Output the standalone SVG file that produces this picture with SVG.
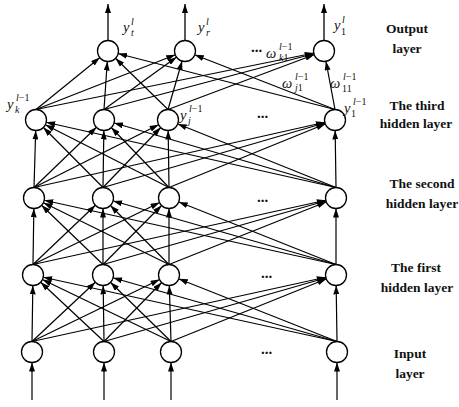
<svg xmlns="http://www.w3.org/2000/svg" width="459" height="407" viewBox="0 0 459 407">
<style>
.c{stroke:#000;stroke-width:1.2;marker-end:url(#a)}
.o{stroke:#000;stroke-width:1.3;marker-end:url(#t)}
circle{fill:#fff;stroke:#000;stroke-width:1.3}
.lb{font-family:"Liberation Serif",serif;font-weight:bold;font-size:13.5px;text-anchor:middle;fill:#111}
.m{font-family:"Liberation Serif",serif;font-style:italic;font-size:14.5px;fill:#111}
.s{font-family:"Liberation Serif",serif;font-size:10px;fill:#111}
.d{font-family:"Liberation Serif",serif;font-weight:bold;font-size:15px;fill:#111}
</style>
<defs>
<marker id="a" markerUnits="userSpaceOnUse" markerWidth="20" markerHeight="6" refX="19.5" refY="3" orient="auto"><path d="M0,0 L9,3 L0,6 z" fill="#000"/></marker>
<marker id="t" markerUnits="userSpaceOnUse" markerWidth="9" markerHeight="6" refX="9" refY="3" orient="auto"><path d="M0,0 L9,3 L0,6 z" fill="#000"/></marker>
</defs>
<g id="connectors">
<line class="c" x1="32" y1="400" x2="32" y2="352"/>
<line class="c" x1="104" y1="400" x2="104" y2="352"/>
<line class="c" x1="171" y1="400" x2="171" y2="352"/>
<line class="c" x1="337" y1="400" x2="337" y2="352"/>

<line class="c" x1="32" y1="341.5" x2="33" y2="275"/>
<line class="c" x1="32" y1="341.5" x2="103" y2="275"/>
<line class="c" x1="32" y1="341.5" x2="169" y2="275"/>
<line class="c" x1="32" y1="341.5" x2="336" y2="275"/>
<line class="c" x1="104" y1="341.5" x2="33" y2="275"/>
<line class="c" x1="104" y1="341.5" x2="103" y2="275"/>
<line class="c" x1="104" y1="341.5" x2="169" y2="275"/>
<line class="c" x1="104" y1="341.5" x2="336" y2="275"/>
<line class="c" x1="171" y1="341.5" x2="33" y2="275"/>
<line class="c" x1="171" y1="341.5" x2="103" y2="275"/>
<line class="c" x1="171" y1="341.5" x2="169" y2="275"/>
<line class="c" x1="171" y1="341.5" x2="336" y2="275"/>
<line class="c" x1="337" y1="341.5" x2="33" y2="275"/>
<line class="c" x1="337" y1="341.5" x2="103" y2="275"/>
<line class="c" x1="337" y1="341.5" x2="169" y2="275"/>
<line class="c" x1="337" y1="341.5" x2="336" y2="275"/>

<line class="c" x1="33" y1="264.5" x2="34" y2="198"/>
<line class="c" x1="33" y1="264.5" x2="103" y2="198"/>
<line class="c" x1="33" y1="264.5" x2="169" y2="198"/>
<line class="c" x1="33" y1="264.5" x2="336" y2="198"/>
<line class="c" x1="103" y1="264.5" x2="34" y2="198"/>
<line class="c" x1="103" y1="264.5" x2="103" y2="198"/>
<line class="c" x1="103" y1="264.5" x2="169" y2="198"/>
<line class="c" x1="103" y1="264.5" x2="336" y2="198"/>
<line class="c" x1="169" y1="264.5" x2="34" y2="198"/>
<line class="c" x1="169" y1="264.5" x2="103" y2="198"/>
<line class="c" x1="169" y1="264.5" x2="169" y2="198"/>
<line class="c" x1="169" y1="264.5" x2="336" y2="198"/>
<line class="c" x1="336" y1="264.5" x2="34" y2="198"/>
<line class="c" x1="336" y1="264.5" x2="103" y2="198"/>
<line class="c" x1="336" y1="264.5" x2="169" y2="198"/>
<line class="c" x1="336" y1="264.5" x2="336" y2="198"/>

<line class="c" x1="34" y1="187.5" x2="36" y2="120"/>
<line class="c" x1="34" y1="187.5" x2="104" y2="120"/>
<line class="c" x1="34" y1="187.5" x2="168" y2="120"/>
<line class="c" x1="34" y1="187.5" x2="335" y2="120"/>
<line class="c" x1="103" y1="187.5" x2="36" y2="120"/>
<line class="c" x1="103" y1="187.5" x2="104" y2="120"/>
<line class="c" x1="103" y1="187.5" x2="168" y2="120"/>
<line class="c" x1="103" y1="187.5" x2="335" y2="120"/>
<line class="c" x1="169" y1="187.5" x2="36" y2="120"/>
<line class="c" x1="169" y1="187.5" x2="104" y2="120"/>
<line class="c" x1="169" y1="187.5" x2="168" y2="120"/>
<line class="c" x1="169" y1="187.5" x2="335" y2="120"/>
<line class="c" x1="336" y1="187.5" x2="36" y2="120"/>
<line class="c" x1="336" y1="187.5" x2="104" y2="120"/>
<line class="c" x1="336" y1="187.5" x2="168" y2="120"/>
<line class="c" x1="336" y1="187.5" x2="335" y2="120"/>

<line class="c" x1="36" y1="109.5" x2="108" y2="51"/>
<line class="c" x1="36" y1="109.5" x2="185" y2="51"/>
<line class="c" x1="36" y1="109.5" x2="324" y2="51"/>
<line class="c" x1="104" y1="109.5" x2="108" y2="51"/>
<line class="c" x1="104" y1="109.5" x2="185" y2="51"/>
<line class="c" x1="104" y1="109.5" x2="324" y2="51"/>
<line class="c" x1="168" y1="109.5" x2="108" y2="51"/>
<line class="c" x1="168" y1="109.5" x2="185" y2="51"/>
<line class="c" x1="168" y1="109.5" x2="324" y2="51"/>
<line class="c" x1="335" y1="109.5" x2="108" y2="51"/>
<line class="c" x1="335" y1="109.5" x2="185" y2="51"/>
<line class="c" x1="335" y1="109.5" x2="324" y2="51"/>

<line class="o" x1="108" y1="40.5" x2="108" y2="4"/>
<line class="o" x1="185" y1="40.5" x2="185" y2="4"/>
<line class="o" x1="324" y1="40.5" x2="324" y2="4"/>
</g>
<g id="input-layer">
<g id="in1"><circle cx="32" cy="352" r="10.5"/></g>
<g id="in2"><circle cx="104" cy="352" r="10.5"/></g>
<g id="in3"><circle cx="171" cy="352" r="10.5"/></g>
<g id="in4"><circle cx="337" cy="352" r="10.5"/></g>
</g>
<g id="hidden1">
<g id="h1n1"><circle cx="33" cy="275" r="10.5"/></g>
<g id="h1n2"><circle cx="103" cy="275" r="10.5"/></g>
<g id="h1n3"><circle cx="169" cy="275" r="10.5"/></g>
<g id="h1n4"><circle cx="336" cy="275" r="10.5"/></g>
</g>
<g id="hidden2">
<g id="h2n1"><circle cx="34" cy="198" r="10.5"/></g>
<g id="h2n2"><circle cx="103" cy="198" r="10.5"/></g>
<g id="h2n3"><circle cx="169" cy="198" r="10.5"/></g>
<g id="h2n4"><circle cx="336" cy="198" r="10.5"/></g>
</g>
<g id="hidden3">
<g id="h3k"><circle cx="36" cy="120" r="10.5"/></g>
<g id="h3n2"><circle cx="104" cy="120" r="10.5"/></g>
<g id="h3j"><circle cx="168" cy="120" r="10.5"/></g>
<g id="h3n1"><circle cx="335" cy="120" r="10.5"/></g>
</g>
<g id="output-layer">
<g id="out-t"><circle cx="108" cy="51" r="10.5"/></g>
<g id="out-r"><circle cx="185" cy="51" r="10.5"/></g>
<g id="out-1"><circle cx="324" cy="51" r="10.5"/></g>
</g>
<g id="math-labels">
<text class="m" x="123" y="32">y</text><text class="s" x="131" y="25" font-style="italic">l</text><text class="s" x="131" y="36" font-style="italic">t</text>
<text class="m" x="198" y="32">y</text><text class="s" x="206" y="25" font-style="italic">l</text><text class="s" x="206" y="36" font-style="italic">r</text>
<text class="m" x="334" y="30">y</text><text class="s" x="342" y="23" font-style="italic">l</text><text class="s" x="341" y="35">1</text>
<text class="m" x="7" y="109">y</text><text class="s" x="16" y="101"><tspan font-style="italic">l</tspan>−1</text><text class="s" x="15" y="113" font-style="italic">k</text>
<text class="m" x="180" y="120">y</text><text class="s" x="189" y="112"><tspan font-style="italic">l</tspan>−1</text><text class="s" x="188" y="124" font-style="italic">j</text>
<text class="m" x="344" y="113">y</text><text class="s" x="353" y="105"><tspan font-style="italic">l</tspan>−1</text><text class="s" x="351" y="117">1</text>
<text class="m" x="266" y="58">ω</text><text class="s" x="279" y="50"><tspan font-style="italic">l</tspan>−1</text><text class="s" x="279" y="61"><tspan font-style="italic">k</tspan>1</text>
<text class="m" x="282" y="88">ω</text><text class="s" x="295" y="80"><tspan font-style="italic">l</tspan>−1</text><text class="s" x="295" y="91"><tspan font-style="italic">j</tspan>1</text>
<text class="m" x="330" y="88">ω</text><text class="s" x="343" y="80"><tspan font-style="italic">l</tspan>−1</text><text class="s" x="342" y="92">11</text>
</g>
<g id="dots">
<text class="d" x="251" y="52">...</text>
<text class="d" x="257" y="118">...</text>
<text class="d" x="257" y="202">...</text>
<text class="d" x="261" y="278">...</text>
<text class="d" x="261" y="354">...</text>
</g>
<g id="layer-labels">
<text class="lb" x="407" y="33">Output</text>
<text class="lb" x="407" y="53">layer</text>
<text class="lb" x="417" y="110">The third</text>
<text class="lb" x="416" y="128">hidden layer</text>
<text class="lb" x="422" y="188">The second</text>
<text class="lb" x="422" y="208">hidden layer</text>
<text class="lb" x="416" y="272">The first</text>
<text class="lb" x="417" y="292">hidden layer</text>
<text class="lb" x="410" y="358">Input</text>
<text class="lb" x="410" y="378">layer</text>
</g>
</svg>
